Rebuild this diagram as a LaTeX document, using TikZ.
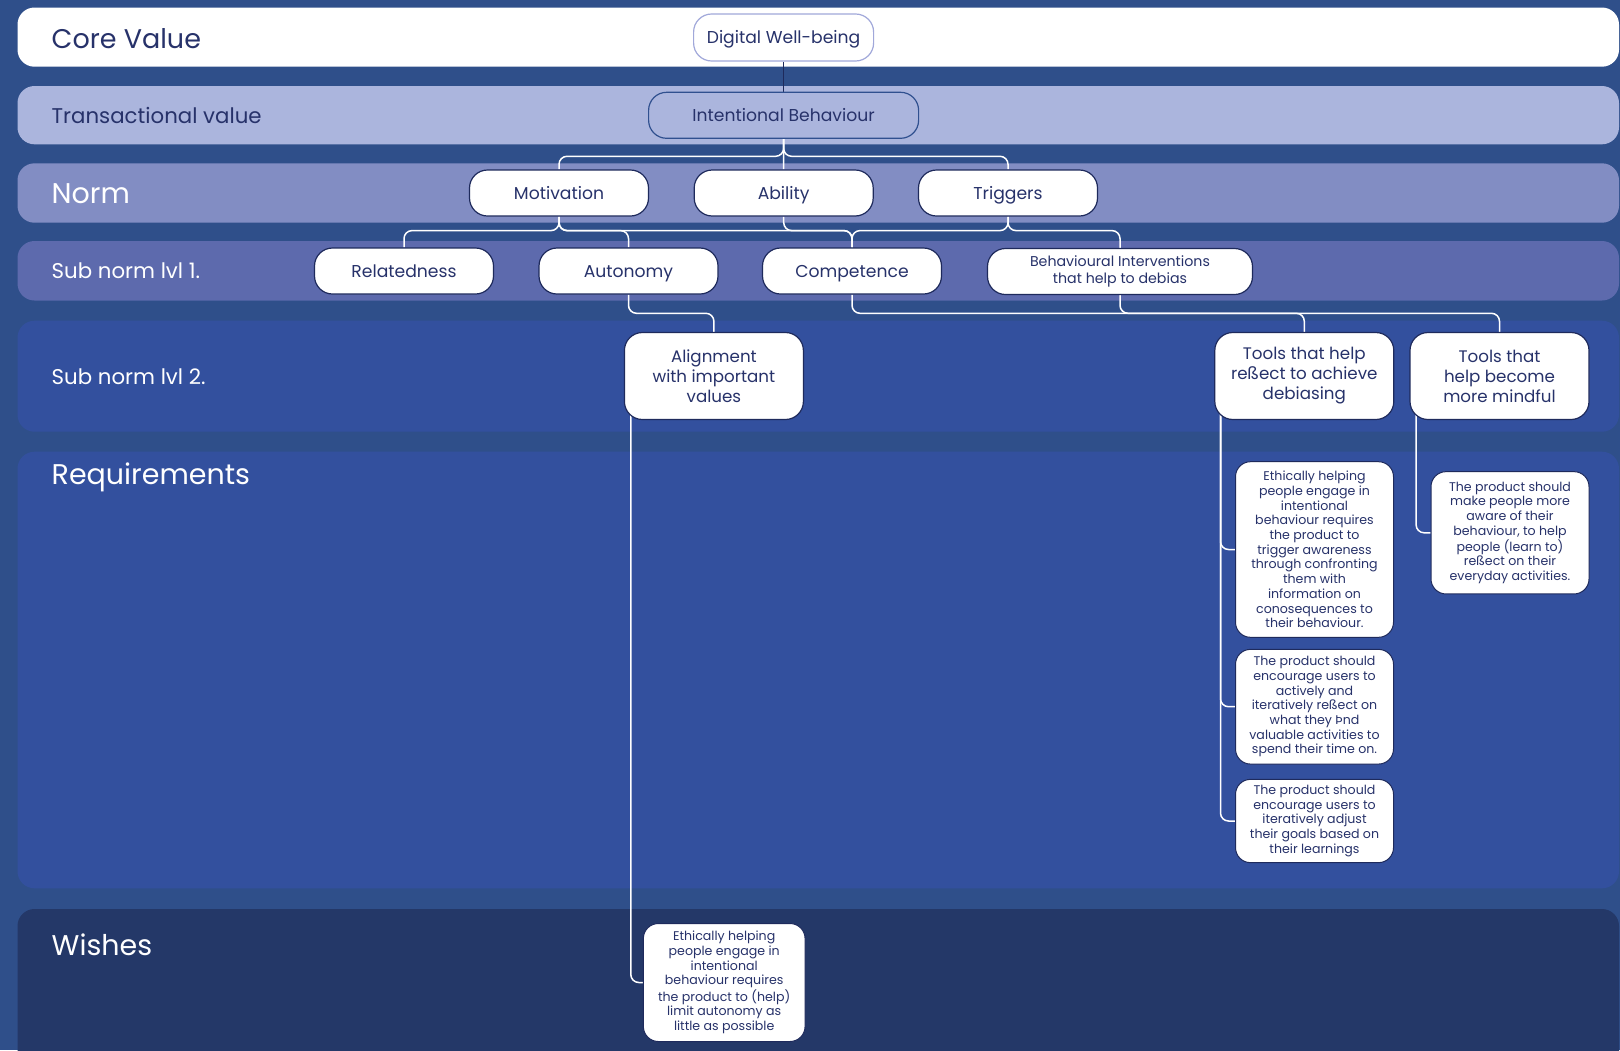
\documentclass[tikz,border=0pt]{standalone}
\usepackage{fontspec}
\setmainfont{Poppins}
\usetikzlibrary{calc}
\pgfdeclarelayer{bands}
\pgfdeclarelayer{links}
\pgfsetlayers{bands,links,main}

\definecolor{pagebg}{HTML}{2F4F8A}
\definecolor{tvband}{HTML}{ABB5DD}
\definecolor{normband}{HTML}{828DC3}
\definecolor{subone}{HTML}{5D6AAD}
\definecolor{subtwo}{HTML}{33509E}
\definecolor{wishband}{HTML}{243868}
\definecolor{ink}{HTML}{27326A}
\definecolor{edge}{HTML}{1E2A5C}
\definecolor{lilac}{HTML}{A1A8DA}
\definecolor{ibedge}{HTML}{30508F}

\tikzset{
  bandshape/.style={rounded corners=17pt},
  bigtag/.style={anchor=base west, inner sep=0pt, font=\fontsize{28.5}{32}\selectfont},
  smalltag/.style={anchor=base west, inner sep=0pt, font=\fontsize{21.3}{24}\selectfont},
  pill/.style={draw=edge, line width=1.2pt, fill=white, rounded corners=18pt,
    minimum width=179pt, minimum height=46pt, inner sep=2pt, text=ink,
    align=center, font=\fontsize{17.2}{20}\selectfont},
  oneline/.style={pill, text height=14.5pt, text depth=2pt},
  tall/.style={pill, minimum height=87pt, font=\fontsize{16.7}{20}\selectfont},
  note/.style={draw=edge, line width=1pt, fill=white, rounded corners=15pt,
    minimum width=158pt, inner sep=2pt, text=ink, align=center,
    font=\fontsize{12.6}{14.7}\selectfont},
  link/.style={draw=white, line width=1.5pt, rounded corners=8pt},
}

\begin{document}
\begin{tikzpicture}[x=1pt,y=-1pt]
\useasboundingbox (0,0) rectangle (1620,1050);

% horizontal level bands
\begin{pgfonlayer}{bands}
  \fill[pagebg] (0,0) rectangle (1620,1050);
  \fill[white, bandshape] (17.5,7.5) rectangle (1619,66.7);
  \fill[tvband, bandshape] (17.5,86) rectangle (1619,144.3);
  \fill[normband, bandshape] (17.5,163.3) rectangle (1619,222.7);
  \fill[subone, bandshape] (17.5,241) rectangle (1619,300.5);
  \fill[subtwo, bandshape] (17.5,320.7) rectangle (1619,431.7);
  \fill[subtwo, bandshape] (17.5,451.7) rectangle (1619,888.3);
  \fill[wishband, bandshape] (17.5,909) rectangle (1619,1075);
\end{pgfonlayer}

% band titles
\node[bigtag, text=ink, font=\fontsize{27}{30}\selectfont] (tcore) at (51.5,48.3) {Core Value};
\node[smalltag, text=ink] (ttrans) at (51.5,123.3) {Transactional value};
\node[bigtag, text=white] (tnorm) at (51.5,203.3) {Norm};
\node[smalltag, text=white] (tsubone) at (51.5,278.3) {Sub norm lvl 1.};
\node[smalltag, text=white] (tsubtwo) at (51.5,384) {Sub norm lvl 2.};
\node[bigtag, text=white] (treq) at (51.5,484) {Requirements};
\node[bigtag, text=white] (twish) at (51.5,955) {Wishes};

% value hierarchy
\node[oneline, draw=lilac, minimum width=180pt, minimum height=47pt] (dw) at (783.6,37.5) {Digital Well-being};
\node[oneline, fill=tvband, draw=ibedge, minimum width=270pt] (ib) at (783.6,115.3) {Intentional Behaviour};

\node[oneline] (mot) at (559,193) {Motivation};
\node[oneline] (abl) at (783.7,193) {Ability};
\node[oneline] (trg) at (1008,193) {Triggers};

\node[oneline] (rel) at (404,271) {Relatedness};
\node[oneline] (aut) at (628.5,271) {Autonomy};
\node[oneline] (cmp) at (852,271) {Competence};
\node[pill, minimum width=265pt, font=\fontsize{14.2}{17}\selectfont] (bhi) at (1120,271.5)
  {Behavioural Interventions\\that help to debias};

\node[tall] (aln) at (713.9,376) {Alignment\\with important\\values};
\node[tall] (trf) at (1304.3,376) {Tools that help\\reßect to achieve\\debiasing};
\node[tall] (tmf) at (1499.5,376) {Tools that\\help become\\more mindful};

% requirements
\node[note, minimum height=175.6pt] (rq1) at (1314.5,549.5)
  {Ethically helping\\people engage in\\intentional\\behaviour requires\\the product to\\trigger awareness\\through confronting\\them with\\information on\\conosequences to\\their behaviour.};
\node[note, minimum height=114.7pt] (rq2) at (1314.5,706.7)
  {The product should\\encourage users to\\actively and\\iteratively reßect on\\what they Þnd\\valuable activities to\\spend their time on.};
\node[note, minimum height=83.3pt] (rq3) at (1314.5,821)
  {The product should\\encourage users to\\iteratively adjust\\their goals based on\\their learnings};
\node[note, minimum height=122.3pt] (rq4) at (1510,532.8)
  {The product should\\make people more\\aware of their\\behaviour, to help\\people (learn to)\\reßect on their\\everyday activities.};

% wishes
\node[note, minimum width=161.7pt, minimum height=118pt] (wsh) at (724.2,982.5)
  {Ethically helping\\people engage in\\intentional\\behaviour requires\\the product to (help)\\limit autonomy as\\little as possible};

% connectors
\begin{pgfonlayer}{links}
  \draw[edge, line width=1.5pt] (dw.south) -- (ib.north);

  \draw[link] (ib.south) -- ++(0,17.4) -| (mot.north);
  \draw[link] (ib.south) -- ++(0,17.4) -| (trg.north);
  \draw[link] (ib.south) -- (abl.north);

  \draw[link] (mot.south) -- ++(0,14) -| (rel.north);
  \draw[link] (mot.south) -- ++(0,14) -| (aut.north);
  \draw[link] (mot.south) -- ++(0,14) -| (cmp.north);
  \draw[link] (abl.south) -- ++(0,14) -| (cmp.north);
  \draw[link] (trg.south) -- ++(0,14) -| (cmp.north);
  \draw[link] (trg.south) -- ++(0,14) -| (bhi.north);

  \draw[link] (aut.south) -- ++(0,18.7) -| (aln.north);
  \draw[link] (cmp.south) -- ++(0,18.7) -| (trf.north);
  \draw[link] (bhi.south) -- ++(0,18.2) -| (tmf.north);

  \coordinate (alfoot) at ($(aln.south west)+(7,-6)$);
  \coordinate (trfoot) at ($(trf.south west)+(6.3,-6)$);
  \coordinate (tmfoot) at ($(tmf.south west)+(6.7,-6)$);

  \draw[link] (alfoot) |- (wsh.west);
  \draw[link] (trfoot) |- (rq1.west);
  \draw[link] (trfoot) |- (rq2.west);
  \draw[link] (trfoot) |- (rq3.west);
  \draw[link] (tmfoot) |- (rq4.west);
\end{pgfonlayer}
\end{tikzpicture}
\end{document}
